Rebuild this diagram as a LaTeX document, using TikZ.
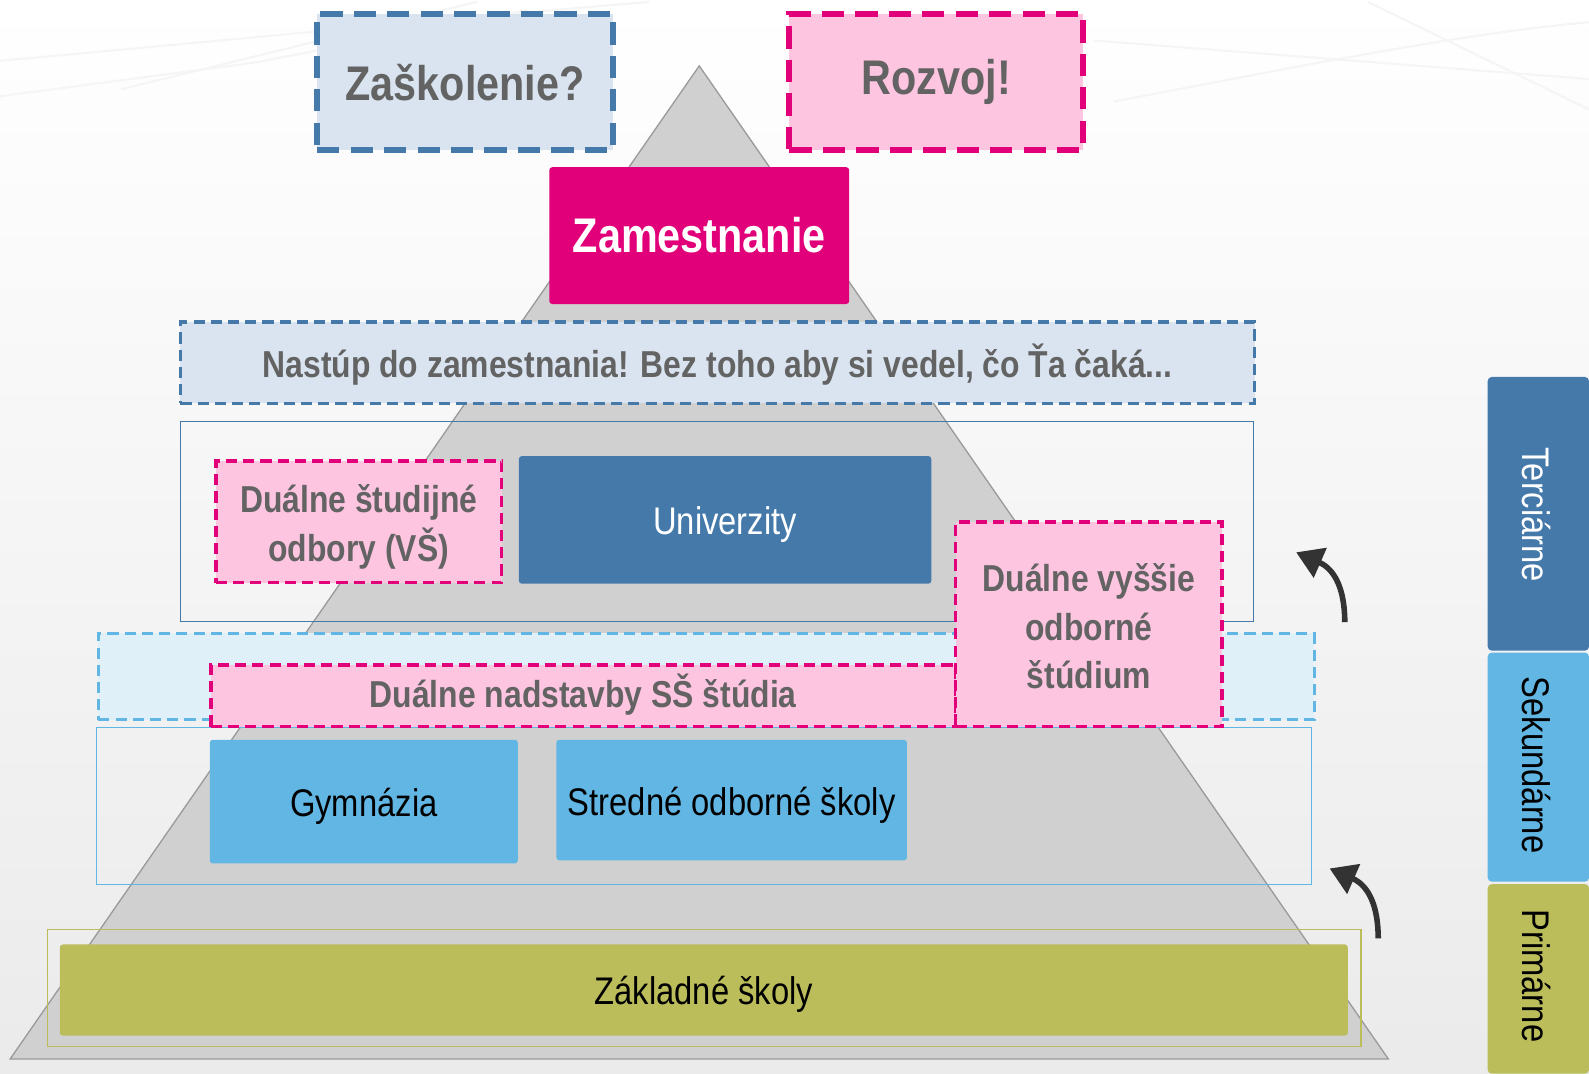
\documentclass[tikz,border=0pt]{standalone}
\usepackage{fontspec}
\usetikzlibrary{arrows.meta}
\newfontfamily\tg[FakeStretch=0.85]{Liberation Sans}
\definecolor{steel}{HTML}{4479AA}
\definecolor{steelfill}{HTML}{D9E4F0}
\definecolor{tmag}{HTML}{E2007A}
\definecolor{tpink}{HTML}{FEC5E1}
\definecolor{lblue}{HTML}{62B6E3}
\definecolor{lbluefill}{HTML}{DFF0F9}
\definecolor{olive}{HTML}{BBBD5B}
\definecolor{txtgray}{HTML}{636363}
\definecolor{pyrfill}{HTML}{D0D0D0}
\definecolor{pyrline}{HTML}{9A9A9A}
\definecolor{arrgray}{HTML}{333333}
\tikzset{
  box/.style={rectangle, inner sep=0pt, outer sep=0pt, align=center},
  bigdash/.style={box, draw, line width=6pt, dash pattern=on 22pt off 11pt},
  meddash/.style={box, draw, line width=3.5pt, dash pattern=on 11pt off 6pt},
  steelbox/.style={fill=steelfill, draw=steel},
  pinkbox/.style={fill=tpink, draw=tmag},
  bigtxt/.style={font=\tg\fontsize{48}{54}\selectfont\bfseries, text=txtgray},
  medtxt/.style={font=\tg\fontsize{37}{48}\selectfont\bfseries, text=txtgray, align=center, inner sep=0pt},
  regtxt/.style={font=\tg\fontsize{38}{44}\selectfont, inner sep=0pt},
  solidbox/.style={box, rounded corners=3pt},
  outline/.style={box, draw, line width=1pt},
  sidebar/.style={box, rounded corners=4pt},
  curvearrow/.style={draw=arrgray, line width=5.5pt, -{Triangle[length=26pt,width=31pt]}},
  streak/.style={draw=black!4, line width=2pt, line cap=round}
}
\begin{document}
\begin{tikzpicture}[x=1pt,y=-1pt]
\useasboundingbox (0,0) rectangle (1568,1059);
% background
\shade[top color=white, bottom color=black!8] (0,0) rectangle (1568,1059);
% faint streaks
\draw[streak] (0,95) -- (250,62) -- (520,10);
\draw[streak] (0,60) .. controls (200,42) and (400,22) .. (640,2);
\draw[streak] (120,88) -- (470,2);
\draw[streak] (1080,40) -- (1568,78);
\draw[streak] (1100,100) .. controls (1300,62) and (1450,32) .. (1568,22);
\draw[streak] (1350,2) -- (1568,108);
% pyramid
\draw[fill=pyrfill, draw=pyrline, line width=1.3pt, line join=miter] (690,65) -- (1370,1045) -- (10,1045) -- cycle;
% outline rectangles
\node[outline, draw=steel, minimum width=1059pt, minimum height=197pt] (tertrect) at (707.5,514.5) {};
\node[outline, draw=lblue, minimum width=1199pt, minimum height=155pt] (secrect) at (694.5,795.5) {};
\node[outline, draw=olive, minimum width=1296pt, minimum height=116pt] (primrect) at (695,975) {};
% top boxes
\node[bigdash, steelbox, minimum width=292pt, minimum height=134pt, bigtxt] (zask) at (459,81) {Zaškolenie?};
\node[bigdash, pinkbox, minimum width=290pt, minimum height=134pt, bigtxt] (rozvoj) at (924,81) {Rozvoj!};
\node[solidbox, fill=tmag, minimum width=296pt, minimum height=135pt, bigtxt, text=white] (zam) at (690,232.5) {Zamestnanie};
\node[meddash, steelbox, minimum width=1060pt, minimum height=80pt] (nastup) at (708,358)
  {}; \node[medtxt] (nastupt) at ([yshift=-2pt]nastup.center) {Nastúp do zamestnania! Bez toho aby si vedel, čo Ťa čaká...};
% tertiary
\node[meddash, pinkbox, minimum width=282pt, minimum height=120pt] (dsvs) at (354,515) {};
\node[medtxt] (dsvst) at ([yshift=-5pt]dsvs.center) {Duálne študijné\\odbory (VŠ)};
\node[solidbox, fill=steel, minimum width=407pt, minimum height=126pt] (univ) at (715.5,513) {};
\node[regtxt, text=white] (univt) at ([yshift=-5pt]univ.center) {Univerzity};
% secondary
\node[meddash, fill=lbluefill, draw=lblue, minimum width=1200pt, minimum height=85pt] (lbbox) at (697,667.5) {};
\node[meddash, pinkbox, minimum width=735pt, minimum height=61pt] (nadst) at (575.5,686.5) {};
\node[medtxt] (nadstt) at ([yshift=1pt]nadst.center) {Duálne nadstavby SŠ štúdia};
\node[meddash, pinkbox, minimum width=263pt, minimum height=202pt] (vyssie) at (1074.5,616) {};
\node[medtxt] (vyssiet) at ([yshift=-2pt]vyssie.center) {Duálne vyššie\\odborné\\štúdium};
\node[solidbox, fill=lblue, minimum width=304pt, minimum height=122pt] (gym) at (359,791) {};
\node[regtxt] (gymt) at ([yshift=-5pt]gym.center) {Gymnázia};
\node[solidbox, fill=lblue, minimum width=346pt, minimum height=119pt] (sos) at (722,789.5) {};
\node[regtxt] (sost) at ([yshift=-5pt]sos.center) {Stredné odborné školy};
% primary
\node[solidbox, fill=olive, minimum width=1271pt, minimum height=90pt] (zs) at (694.5,977) {};
\node[regtxt] (zst) at ([yshift=-4pt]zs.center) {Základné školy};
% side bars
\node[sidebar, fill=steel, minimum width=100pt, minimum height=270pt] (tercbar) at (1518,507) {};
\node[sidebar, fill=lblue, minimum width=100pt, minimum height=226pt] (sekbar) at (1518,757) {};
\node[sidebar, fill=olive, minimum width=100pt, minimum height=187pt] (primbar) at (1518,966) {};
\node[regtxt, text=white, rotate=-90] (tercl) at (1516,508) {Terciárne};
\node[regtxt, rotate=-90] (sekl) at (1516,755) {Sekundárne};
\node[regtxt, rotate=-90] (priml) at (1516,963) {Primárne};
% arrows
\coordinate (a1s) at (1327,614);
\coordinate (a1e) at (1279,545);
\coordinate (a2s) at (1360,926);
\coordinate (a2e) at (1312,857);
\draw[curvearrow] (a1s) .. controls (1327,583) and (1318,562) .. (a1e);
\draw[curvearrow] (a2s) .. controls (1360,895) and (1351,874) .. (a2e);
\end{tikzpicture}
\end{document}
